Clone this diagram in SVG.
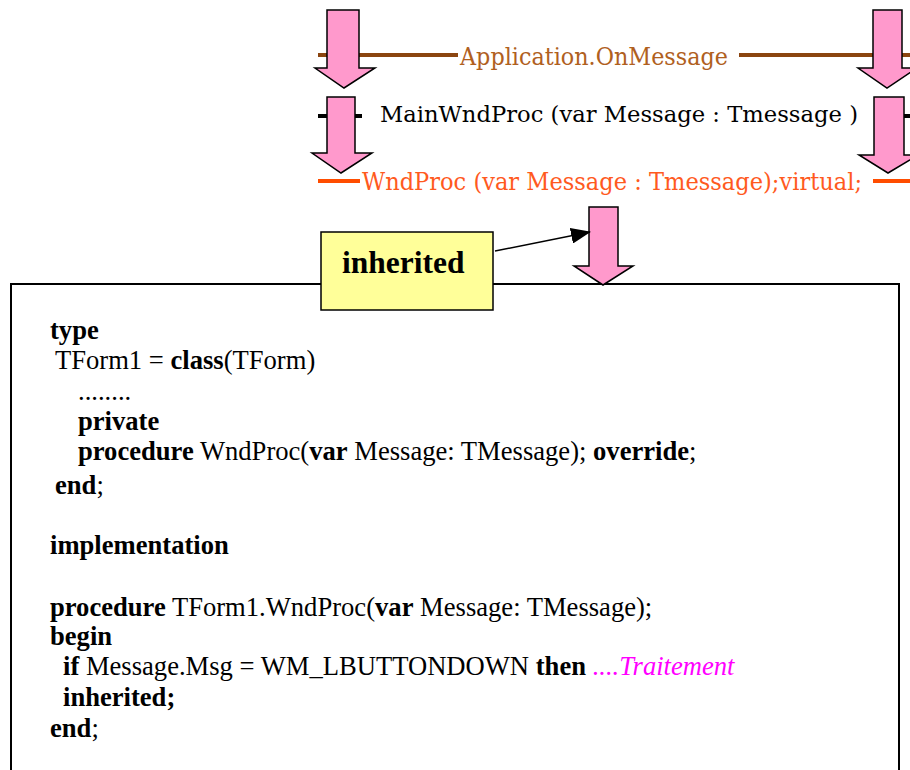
<svg xmlns="http://www.w3.org/2000/svg" width="910" height="770" viewBox="0 0 910 770">
  <style>
    .slab { font-family: "DejaVu Serif", "Liberation Serif", serif; }
    .code { font-family: "Liberation Serif", "Times New Roman", serif; font-size: 26.6px; fill: #000; }
    .b { font-weight: bold; }
    .flow { fill: #FF99CC; stroke: #000; stroke-width: 1.5; stroke-linejoin: miter; }
  </style>
  <defs>
    <marker id="head" markerWidth="20" markerHeight="16" refX="19" refY="8" orient="auto" markerUnits="userSpaceOnUse" viewBox="0 0 20 16">
      <path d="M0,0 L20,8 L0,16 Z" fill="#000"/>
    </marker>
  </defs>
  <rect width="910" height="770" fill="#fff"/>

  <!-- message chain bars -->
  <g id="bar-onmessage">
    <line x1="318" y1="55" x2="458" y2="55" stroke="#8B4510" stroke-width="4"/>
    <line x1="739" y1="55" x2="910" y2="55" stroke="#8B4510" stroke-width="4"/>
    <text class="slab" x="460" y="65" font-size="24" fill="#B0601E" textLength="268" lengthAdjust="spacingAndGlyphs">Application.OnMessage</text>
  </g>
  <g id="bar-mainwndproc">
    <line x1="318" y1="116" x2="362" y2="116" stroke="#000" stroke-width="4"/>
    <line x1="900" y1="116" x2="910" y2="116" stroke="#000" stroke-width="4"/>
    <text class="slab" x="380" y="122" font-size="23" fill="#000" textLength="478" lengthAdjust="spacingAndGlyphs">MainWndProc (var Message : Tmessage )</text>
  </g>
  <g id="bar-wndproc">
    <line x1="318" y1="181" x2="360" y2="181" stroke="#FF4D00" stroke-width="4"/>
    <line x1="873" y1="181" x2="910" y2="181" stroke="#FF4D00" stroke-width="4"/>
    <text class="slab" x="362" y="190" font-size="24" fill="#FF5A1E" textLength="500" lengthAdjust="spacingAndGlyphs">WndProc (var Message : Tmessage);virtual;</text>
  </g>

  <!-- code listing frame -->
  <g id="code-box">
    <rect x="11" y="284" width="888" height="500" fill="#fff" stroke="#000" stroke-width="2"/>
    <text class="code b" x="50" y="339">type</text>
    <text class="code" x="55" y="369">TForm1 = <tspan class="b">class</tspan>(TForm)</text>
    <text class="code" x="78" y="400">........</text>
    <text class="code b" x="78" y="430">private</text>
    <text class="code" x="78" y="460"><tspan class="b">procedure</tspan> WndProc(<tspan class="b">var</tspan> Message: TMessage); <tspan class="b">override</tspan>;</text>
    <text class="code" x="55" y="494"><tspan class="b">end</tspan>;</text>
    <text class="code b" x="50" y="554">implementation</text>
    <text class="code" x="50" y="616"><tspan class="b">procedure</tspan> TForm1.WndProc(<tspan class="b">var</tspan> Message: TMessage);</text>
    <text class="code b" x="50" y="645">begin</text>
    <text class="code" x="63" y="675"><tspan class="b">if</tspan> Message.Msg = WM_LBUTTONDOWN <tspan class="b">then</tspan> <tspan fill="#FF00FF" font-style="italic">....Traitement</tspan></text>
    <text class="code b" x="63" y="706">inherited;</text>
    <text class="code" x="50" y="737"><tspan class="b">end</tspan>;</text>
  </g>

  <!-- callout label -->
  <g id="label-inherited">
    <rect x="321" y="232" width="172" height="78" fill="#FFFF99" stroke="#000" stroke-width="1.5"/>
    <text x="342" y="273" font-family="Liberation Serif, serif" font-size="31.5" font-weight="bold" fill="#000">inherited</text>
  </g>

  <!-- connectors: message flow arrows and callout pointer -->
  <g id="connectors">
    <polygon class="flow" points="327,10 359,10 359,68 375,68 344,88 315,68 327,68"/>
    <polygon class="flow" points="327,97 355,97 355,153 372,153 341,173 312,153 327,153"/>
    <polygon class="flow" points="873,10 902,10 902,68 917,68 887,88 858,68 873,68"/>
    <polygon class="flow" points="874,97 904,97 904,155 918,155 888,173 859,155 874,155"/>
    <polygon class="flow" points="589,207 618,207 618,266 633,266 603,285 574,266 589,266"/>
    <line x1="495" y1="251" x2="590" y2="232" stroke="#000" stroke-width="1.5" marker-end="url(#head)"/>
  </g>
</svg>
